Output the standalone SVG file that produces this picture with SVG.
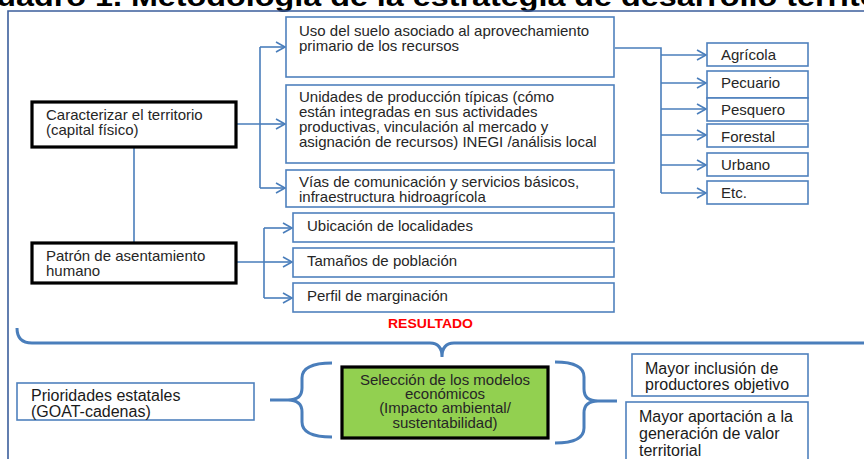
<svg xmlns="http://www.w3.org/2000/svg" width="864" height="459" viewBox="0 0 864 459">
<defs>
<style>
.t{font-family:"Liberation Sans",Arial,sans-serif;font-size:15px;fill:#262626}
.b{font-family:"Liberation Sans",Arial,sans-serif;font-size:16px;fill:#1a1a1a}
.box{fill:#fff;stroke:#4F81BD;stroke-width:1.6}
.kbox{fill:#fff;stroke:#000;stroke-width:3.2}
.con{fill:none;stroke:#4A7EBB;stroke-width:1.6}
.br{fill:none;stroke:#4A7EBB;stroke-width:3}
</style>
<marker id="ar" markerWidth="12" markerHeight="12" refX="10" refY="6" orient="auto" markerUnits="userSpaceOnUse">
<path d="M1,1 L10,6 L1,11" fill="none" stroke="#4A7EBB" stroke-width="1.6"/>
</marker>
</defs>
<rect x="0" y="0" width="864" height="459" fill="#fff"/>
<text x="-27" y="6" font-family="Liberation Sans,Arial,sans-serif" font-weight="bold" font-size="27" textLength="955" lengthAdjust="spacingAndGlyphs" fill="#000">Cuadro 1. Metodología de la estrategia de desarrollo territorial</text>
<path d="M8,459 L8,11 L870,11" fill="none" stroke="#3B5E9C" stroke-width="1.6"/>

<g id="connectors">
<path class="con" d="M236,124 L260,124 M260,47 L260,188 M134,147 L134,243 M236,262 L264,262 M264,228 L264,298 M615,48 L661,48 L661,193"/>
<line class="con" x1="260" y1="47" x2="285" y2="47" marker-end="url(#ar)"/>
<line class="con" x1="260" y1="124" x2="285" y2="124" marker-end="url(#ar)"/>
<line class="con" x1="260" y1="188" x2="285" y2="188" marker-end="url(#ar)"/>
<line class="con" x1="264" y1="228" x2="292" y2="228" marker-end="url(#ar)"/>
<line class="con" x1="264" y1="262" x2="292" y2="262" marker-end="url(#ar)"/>
<line class="con" x1="264" y1="298" x2="292" y2="298" marker-end="url(#ar)"/>
<line class="con" x1="661" y1="55" x2="706" y2="55" marker-end="url(#ar)"/>
<line class="con" x1="661" y1="83" x2="706" y2="83" marker-end="url(#ar)"/>
<line class="con" x1="661" y1="109" x2="706" y2="109" marker-end="url(#ar)"/>
<line class="con" x1="661" y1="135" x2="706" y2="135" marker-end="url(#ar)"/>
<line class="con" x1="661" y1="165" x2="706" y2="165" marker-end="url(#ar)"/>
<line class="con" x1="661" y1="193" x2="706" y2="193" marker-end="url(#ar)"/>
<path class="br" d="M17,328 Q17,343 32,343 L430,343 Q442,343 442,357 Q442,343 454,343 L880,343"/>
<path class="br" d="M332,363 Q302,363 302,378 L302,388 Q302,400 288,400 L270,400 M288,400 Q302,400 302,412 L302,422 Q302,437 332,437"/>
<path class="br" d="M555,362 Q584,362 584,377 L584,389 Q584,401 598,401 L617,401 M598,401 Q584,401 584,413 L584,428 Q584,443 555,443"/>
</g>

<g id="caracterizar">
<rect class="kbox" x="32" y="102" width="204" height="45"/>
<text class="t" x="46" y="120">Caracterizar el territorio</text>
<text class="t" x="46" y="135">(capital físico)</text>
</g>
<g id="patron">
<rect class="kbox" x="32" y="243" width="204" height="40"/>
<text class="t" x="46" y="261">Patrón de asentamiento</text>
<text class="t" x="46" y="276">humano</text>
</g>

<g id="uso-suelo">
<rect class="box" x="286" y="17" width="328" height="60"/>
<text class="t" x="299" y="36">Uso del suelo asociado al aprovechamiento</text>
<text class="t" x="299" y="51">primario de los recursos</text>
</g>
<g id="unidades">
<rect class="box" x="286" y="85" width="328" height="78"/>
<text class="t" x="299" y="102">Unidades de producción típicas (cómo</text>
<text class="t" x="299" y="117">están integradas en sus actividades</text>
<text class="t" x="299" y="132">productivas, vinculación al mercado y</text>
<text class="t" x="299" y="147">asignación de recursos) INEGI /análisis local</text>
</g>
<g id="vias">
<rect class="box" x="286" y="170" width="328" height="37"/>
<text class="t" x="299" y="187">Vías de comunicación y servicios básicos,</text>
<text class="t" x="299" y="202">infraestructura hidroagrícola</text>
</g>
<g id="ubicacion">
<rect class="box" x="293" y="213" width="321" height="29"/>
<text class="t" x="307" y="231">Ubicación de localidades</text>
</g>
<g id="tamanos">
<rect class="box" x="293" y="248" width="321" height="29"/>
<text class="t" x="307" y="266">Tamaños de población</text>
</g>
<g id="perfil">
<rect class="box" x="293" y="283" width="321" height="29"/>
<text class="t" x="307" y="301">Perfil de marginación</text>
</g>

<g id="agricola"><rect class="box" x="707" y="43" width="101" height="23"/><text class="t" x="721" y="60">Agrícola</text></g>
<g id="pecuario"><rect class="box" x="707" y="71" width="101" height="27"/><text class="t" x="721" y="88">Pecuario</text></g>
<g id="pesquero"><rect class="box" x="707" y="98" width="101" height="23"/><text class="t" x="721" y="115">Pesquero</text></g>
<g id="forestal"><rect class="box" x="707" y="124" width="101" height="23"/><text class="t" x="721" y="142">Forestal</text></g>
<g id="urbano"><rect class="box" x="707" y="153" width="101" height="23"/><text class="t" x="721" y="170">Urbano</text></g>
<g id="etc"><rect class="box" x="707" y="181" width="101" height="23"/><text class="t" x="721" y="198">Etc.</text></g>

<g id="resultado">
<text x="388" y="328" font-family="Liberation Sans,Arial,sans-serif" font-weight="bold" font-size="12" textLength="85" lengthAdjust="spacingAndGlyphs" fill="#FF0000">RESULTADO</text>
</g>

<g id="prioridades">
<rect class="box" x="17" y="383" width="237" height="37"/>
<text class="b" x="31" y="401">Prioridades estatales</text>
<text class="b" x="31" y="417">(GOAT-cadenas)</text>
</g>
<g id="seleccion">
<rect x="342" y="367" width="206" height="71" fill="#92D050" stroke="#000" stroke-width="3.2"/>
<g class="t" text-anchor="middle" font-size="14" fill="#1a1a1a">
<text x="445" y="385">Selección de los modelos</text>
<text x="445" y="399">económicos</text>
<text x="445" y="413">(Impacto ambiental/</text>
<text x="445" y="428">sustentabilidad)</text>
</g>
</g>
<g id="inclusion">
<rect class="box" x="632" y="354" width="176" height="42"/>
<text class="b" x="645" y="374">Mayor inclusión de</text>
<text class="b" x="645" y="390">productores objetivo</text>
</g>
<g id="aportacion">
<rect class="box" x="626" y="402" width="182" height="70"/>
<text class="b" x="639" y="422">Mayor aportación a la</text>
<text class="b" x="639" y="439">generación de valor</text>
<text class="b" x="639" y="456">territorial</text>
</g>
</svg>
